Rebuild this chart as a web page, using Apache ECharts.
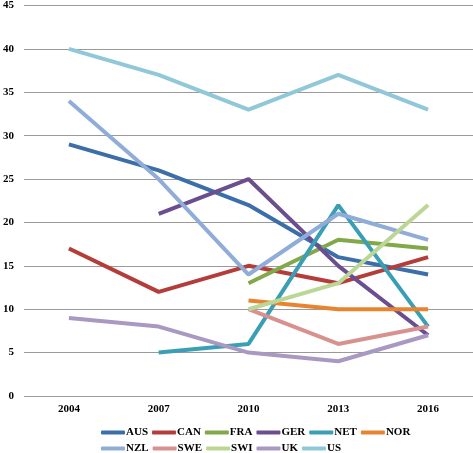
<!DOCTYPE html>
<html><head><meta charset="utf-8">
<script src="https://cdn.jsdelivr.net/npm/echarts@6/dist/echarts.min.js"></script>
<style>html,body{margin:0;padding:0;background:#fff}#c{width:473px;height:453px}</style>
</head><body><div id="c"></div>
<script>
const years = ['2004','2007','2010','2013','2016'];
const AUS = [29, 26, 22, 16, 14];
const CAN = [17, 12, 15, 13, 16];
const FRA = ['-', '-', 13, 18, 17];
const GER = ['-', 21, 25, 15, 7];
const NET = ['-', 5, 6, 22, 8];
const NOR = ['-', '-', 11, 10, 10];
const NZL = [34, 25, 14, 21, 18];
const SWE = ['-', '-', 10, 6, 8];
const SWI = ['-', '-', 10, 13, 22];
const UK  = [9, 8, 5, 4, 7];
const US  = [40, 37, 33, 37, 33];
const yTicks = [0, 5, 10, 15, 20, 25, 30, 35, 40, 45];

const names = ['AUS','CAN','FRA','GER','NET','NOR','NZL','SWE','SWI','UK','US'];
const values = [AUS, CAN, FRA, GER, NET, NOR, NZL, SWE, SWI, UK, US];
const colors = ['#3c6ea9','#b43d3a','#82a84a','#6b4e8f','#3a9fb5','#e8842f','#8fadd8','#d7928f','#bcd795','#a898c2','#90c8da'];

const font = 'Liberation Serif';
const legendCommon = {
  left: 101, padding: 0, itemWidth: 24, itemHeight: 4, itemGap: 4, icon: 'roundRect',
  textStyle: {fontFamily: font, fontWeight: 'bold', fontSize: 11, color: '#000', padding: [0,0,0,-4]}
};

const chart = echarts.init(document.getElementById('c'));
chart.setOption({
  animation: false,
  color: colors,
  grid: {left: 20, right: -2, top: 4, bottom: 57, containLabel: false},
  legend: [
    Object.assign({top: 427, data: names.slice(0, 6)}, legendCommon),
    Object.assign({top: 443, data: names.slice(6)}, legendCommon)
  ],
  xAxis: {
    type: 'category', data: years, boundaryGap: true,
    axisLine: {show: false}, axisTick: {show: false},
    axisLabel: {fontFamily: font, fontWeight: 'bold', fontSize: 11, color: '#000', margin: 8}
  },
  yAxis: {
    type: 'value', min: 0, max: 45, interval: 5,
    axisLine: {show: false}, axisTick: {show: false},
    axisLabel: {fontFamily: font, fontWeight: 'bold', fontSize: 11, color: '#000', margin: 10,
      formatter: v => yTicks.includes(v) ? String(v) : ''},
    splitLine: {lineStyle: {color: '#9a9a9a', width: 1}}
  },
  series: names.map((n, i) => ({
    name: n, type: 'line', data: values[i], showSymbol: false, symbol: 'none',
    lineStyle: {width: 4, color: colors[i]}, itemStyle: {color: colors[i]},
    connectNulls: false
  }))
});
</script></body></html>
